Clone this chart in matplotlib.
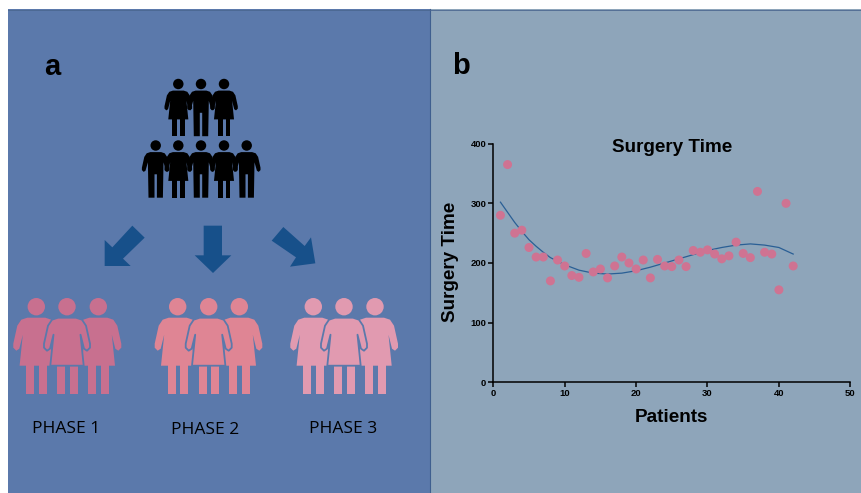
import matplotlib
matplotlib.use("Agg")
import matplotlib.pyplot as plt
from matplotlib.patches import Polygon, Circle, Rectangle

patients = list(range(1, 43))
surgery_time = [280, 365, 250, 255, 226, 210, 210, 170, 205, 195, 179, 176, 216, 185,
                190, 175, 195, 210, 200, 190, 205, 175, 206, 195, 194, 205, 194, 221,
                218, 222, 215, 207, 212, 235, 216, 209, 320, 218, 215, 155, 300, 195]
trend_x = [1, 2, 3, 4, 5, 6, 7, 8, 10, 12, 14, 16, 18, 20, 22, 24, 26, 28, 30, 32, 34, 36, 38, 40, 42]
trend_y = [302, 285, 268, 253, 239, 228, 218, 209, 197, 188, 183, 181.5, 183, 187, 193,
           200, 207, 214, 221, 226, 230, 232, 230, 226, 215]
x_ticks = [0, 10, 20, 30, 40, 50]
y_ticks = [0, 100, 200, 300, 400]
phase_labels = ["PHASE 1", "PHASE 2", "PHASE 3"]

W, H = 862, 493
BG_L, BG_R = "#5b79ab", "#8ea5ba"
fig = plt.figure(figsize=(W / 100, H / 100), dpi=100, facecolor="white")
bg = fig.add_axes([0, 0, 1, 1])
bg.set_xlim(0, W); bg.set_ylim(H, 0); bg.axis("off")
bg.add_patch(Rectangle((8, 9), 422, H - 9, fc=BG_L, ec="none"))
bg.add_patch(Rectangle((430, 9), W - 430, H - 9, fc=BG_R, ec="none"))
bg.plot([430, 430], [9, H], color="#3f5f8f", lw=0.8)
bg.plot([8, W], [9.5, 9.5], color="#4a6690", lw=0.6)


def woman(ax, cx, top, s, color, edge=None):
    """top = centre of head; s = scale (1 = large pink icon)."""
    P = lambda pts: [(cx + a * s, top + b * s) for a, b in pts]
    ax.add_patch(Circle((cx, top), 8.7 * s, fc=color, ec="none"))
    for a, b in [(-10, -2), (2.7, 10.7)]:
        ax.add_patch(Rectangle((cx + a * s, top + 58 * s), (b - a) * s, 29 * s, fc=color, ec="none"))
    body = [(-9, 11), (9, 11), (15, 13), (19, 19), (23, 37), (23, 41), (20, 44), (17, 42),
            (13.5, 28), (16.7, 59), (-16.7, 59), (-13.5, 28), (-17, 42), (-20, 44), (-23, 41),
            (-23, 37), (-19, 19), (-15, 13)]
    ax.add_patch(Polygon(P(body), closed=True, fc=color,
                         ec=edge if edge else "none", lw=1.3 if edge else 0, joinstyle="round"))


def man(ax, cx, top, s, color):
    P = lambda pts: [(cx + a * s, top + b * s) for a, b in pts]
    ax.add_patch(Circle((cx, top), 8.7 * s, fc=color, ec="none"))
    body = [(-9, 11), (9, 11), (15, 13), (19, 19), (23, 37), (23, 41), (20, 44), (17, 42),
            (13, 28), (12, 87), (2, 87), (2, 48), (-2, 48), (-2, 87), (-12, 87),
            (-13, 28), (-17, 42), (-20, 44), (-23, 41), (-23, 37), (-19, 19), (-15, 13)]
    ax.add_patch(Polygon(P(body), closed=True, fc=color, ec="none"))


# black crowd
S = 0.6
for cx, kind in [(178.3, woman), (224, woman), (201, man)]:
    kind(bg, cx, 84, S, "black")
for cx, kind in [(155.7, man), (246.7, man), (178.3, woman), (224, woman), (201, man)]:
    kind(bg, cx, 145.5, S, "black")

# pink groups
groups = [((36.3, 67, 98.3), "#c8708f"), ((177.7, 208.7, 239.3), "#df8594"), ((313.3, 344, 375), "#e19ab0")]
for (l, m, r), col in groups:
    woman(bg, l, 306.7, 1, col)
    woman(bg, r, 306.7, 1, col)
    woman(bg, m, 306.7, 1, col, edge=BG_L)

for (x, y), t in zip([(65.7, 429), (204.7, 430), (343, 429)], phase_labels):
    bg.text(x, y, t, ha="center", va="center", fontsize=12.5, family="Open Sans", color="black")

# arrows
ARROW = "#17508a"
arrows = [
    [(397, 557), (434, 593), (369, 656), (392, 678), (314, 678), (314, 600), (337, 622)],
    [(611, 557), (666, 557), (666, 646), (694, 646), (639, 699), (584, 646), (611, 646)],
    [(850, 561), (815, 602), (888, 652), (870, 680), (946, 670), (933, 592), (914, 618)],
]
for a in arrows:
    bg.add_patch(Polygon([(x / 3, 40 + y / 3) for x, y in a], closed=True, fc=ARROW, ec="none"))

bg.text(52, 67, "a", ha="center", va="center", fontsize=21, fontweight="bold", family="Liberation Sans")
bg.text(461, 66, "b", ha="center", va="center", fontsize=21, fontweight="bold", family="Liberation Sans")

# chart
L, R, T, B = 493.3, 850.3, 143.7, 382.3
ax = fig.add_axes([L / W, 1 - B / H, (R - L) / W, (B - T) / H])
ax.patch.set_alpha(0)
ax.set_xlim(0, 50); ax.set_ylim(0, 400)
ax.plot(trend_x, trend_y, color="#2a5f95", lw=0.9, zorder=2)
ax.scatter(patients, surgery_time, s=42, color="#cf7392", edgecolors="none", zorder=3, clip_on=False)
ax.spines["top"].set_visible(False); ax.spines["right"].set_visible(False)
for sp in ("left", "bottom"):
    ax.spines[sp].set_linewidth(1.1)
ax.set_xticks(x_ticks); ax.set_yticks(y_ticks)
ax.tick_params(length=3.5, width=1.1, pad=1.5)
for t in ax.get_xticklabels() + ax.get_yticklabels():
    t.set(fontsize=6.8, fontweight="bold", family="Liberation Sans")
bg.text(672, 147.5, "Surgery Time", ha="center", va="center", fontsize=13.6, fontweight="bold", family="Liberation Sans")
bg.text(671.7, 417, "Patients", ha="center", va="center", fontsize=13.6, fontweight="bold", family="Liberation Sans")
bg.text(450.5, 261.5, "Surgery Time", ha="center", va="center", rotation=90, fontsize=13.6, fontweight="bold", family="Liberation Sans")

fig.savefig("out.png", dpi=100, facecolor="white")
